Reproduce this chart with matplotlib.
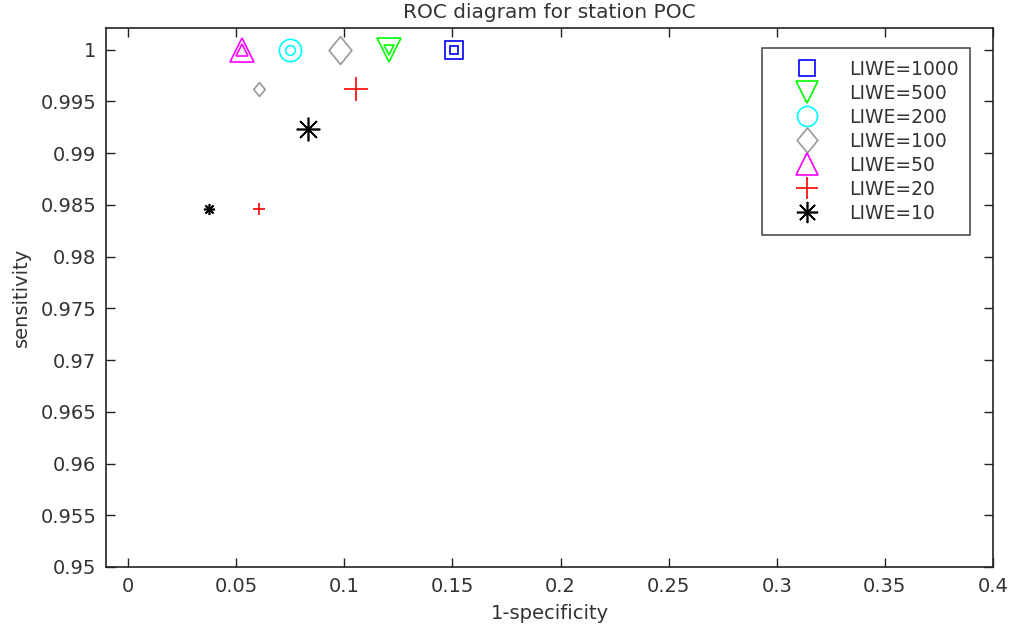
import matplotlib
matplotlib.use("Agg")
import matplotlib.pyplot as plt
from matplotlib.path import Path

# ROC points per LIWE threshold: first point drawn large, second small
labels = ["LIWE=1000", "LIWE=500", "LIWE=200", "LIWE=100", "LIWE=50", "LIWE=20", "LIWE=10"]
x_big = [0.1506, 0.1205, 0.0751, 0.0978, 0.0528, 0.1052, 0.0834]
y_big = [1.0, 1.0, 1.0, 1.0, 1.0, 0.9962, 0.9923]
x_small = [0.1506, 0.1205, 0.0751, 0.0607, 0.0528, 0.0607, 0.0375]
y_small = [1.0, 1.0, 1.0, 0.9962, 1.0, 0.9846, 0.9846]

# matlab-ish diamond (taller than wide)
diamond = Path([(0, 1), (0.82, 0), (0, -1), (-0.82, 0), (0, 1)],
               [Path.MOVETO, Path.LINETO, Path.LINETO, Path.LINETO, Path.CLOSEPOLY])
markers = ["s", "v", "o", diamond, "^", "+", (8, 2, 0)]
colors = ["#0000ff", "#00ff00", "#00ffff", "#999999", "#ff00ff", "#ff0000", "#000000"]
big_sizes = [13.5, 17.5, 16, 20, 17.5, 17, 17]
small_sizes = [6, 7.5, 7, 10, 8, 8.5, 8]

plt.rcParams['font.family'] = ['DejaVu Sans']
fig = plt.figure(figsize=(10.09, 6.30), dpi=100)
ax = fig.add_axes([106 / 1009, 63 / 630, 887 / 1009, 539 / 630])

handles = []
for i in range(len(labels)):
    h, = ax.plot([x_big[i]], [y_big[i]], linestyle='none', marker=markers[i],
                 markersize=big_sizes[i], mfc='none', mec=colors[i], mew=1.2,
                 label=labels[i])
    ax.plot([x_small[i]], [y_small[i]], linestyle='none', marker=markers[i],
            markersize=small_sizes[i], mfc='none', mec=colors[i], mew=1.2)
    handles.append(h)

ax.set_xlim(-0.0102, 0.4)
ax.set_ylim(0.95, 1.0021)
ax.set_xticks([0, 0.05, 0.1, 0.15, 0.2, 0.25, 0.3, 0.35, 0.4])
ax.set_xticklabels(["0", "0.05", "0.1", "0.15", "0.2", "0.25", "0.3", "0.35", "0.4"])
yt = [0.95, 0.955, 0.96, 0.965, 0.97, 0.975, 0.98, 0.985, 0.99, 0.995, 1.0]
ax.set_yticks(yt)
ax.set_yticklabels(["0.95", "0.955", "0.96", "0.965", "0.97", "0.975", "0.98",
                    "0.985", "0.99", "0.995", "1"])
ax.tick_params(direction='in', top=True, right=True, length=6.5, width=1.0,
               labelsize=14, pad=7, colors='#222222', labelcolor='#333333')
for s in ax.spines.values():
    s.set_linewidth(1.2)
    s.set_color('#222222')

ax.set_title("ROC diagram for station POC", fontsize=14.5, pad=7, color='#333333')
ax.set_xlabel("1-specificity", fontsize=14, labelpad=6, color='#333333')
ax.set_ylabel("sensitivity", fontsize=14, labelpad=7, color='#333333')

leg = ax.legend(handles=handles, loc='upper right', bbox_to_anchor=(0.974, 0.963),
                borderaxespad=0, fontsize=13.5, frameon=True, fancybox=False,
                edgecolor='#222222', handlelength=3.6, handletextpad=0.4,
                labelspacing=0.27, borderpad=0.62, numpoints=1, markerscale=0.9)
leg.get_frame().set_linewidth(1.2)
for t in leg.get_texts():
    t.set_color('#333333')

fig.savefig("out.png", dpi=100)
